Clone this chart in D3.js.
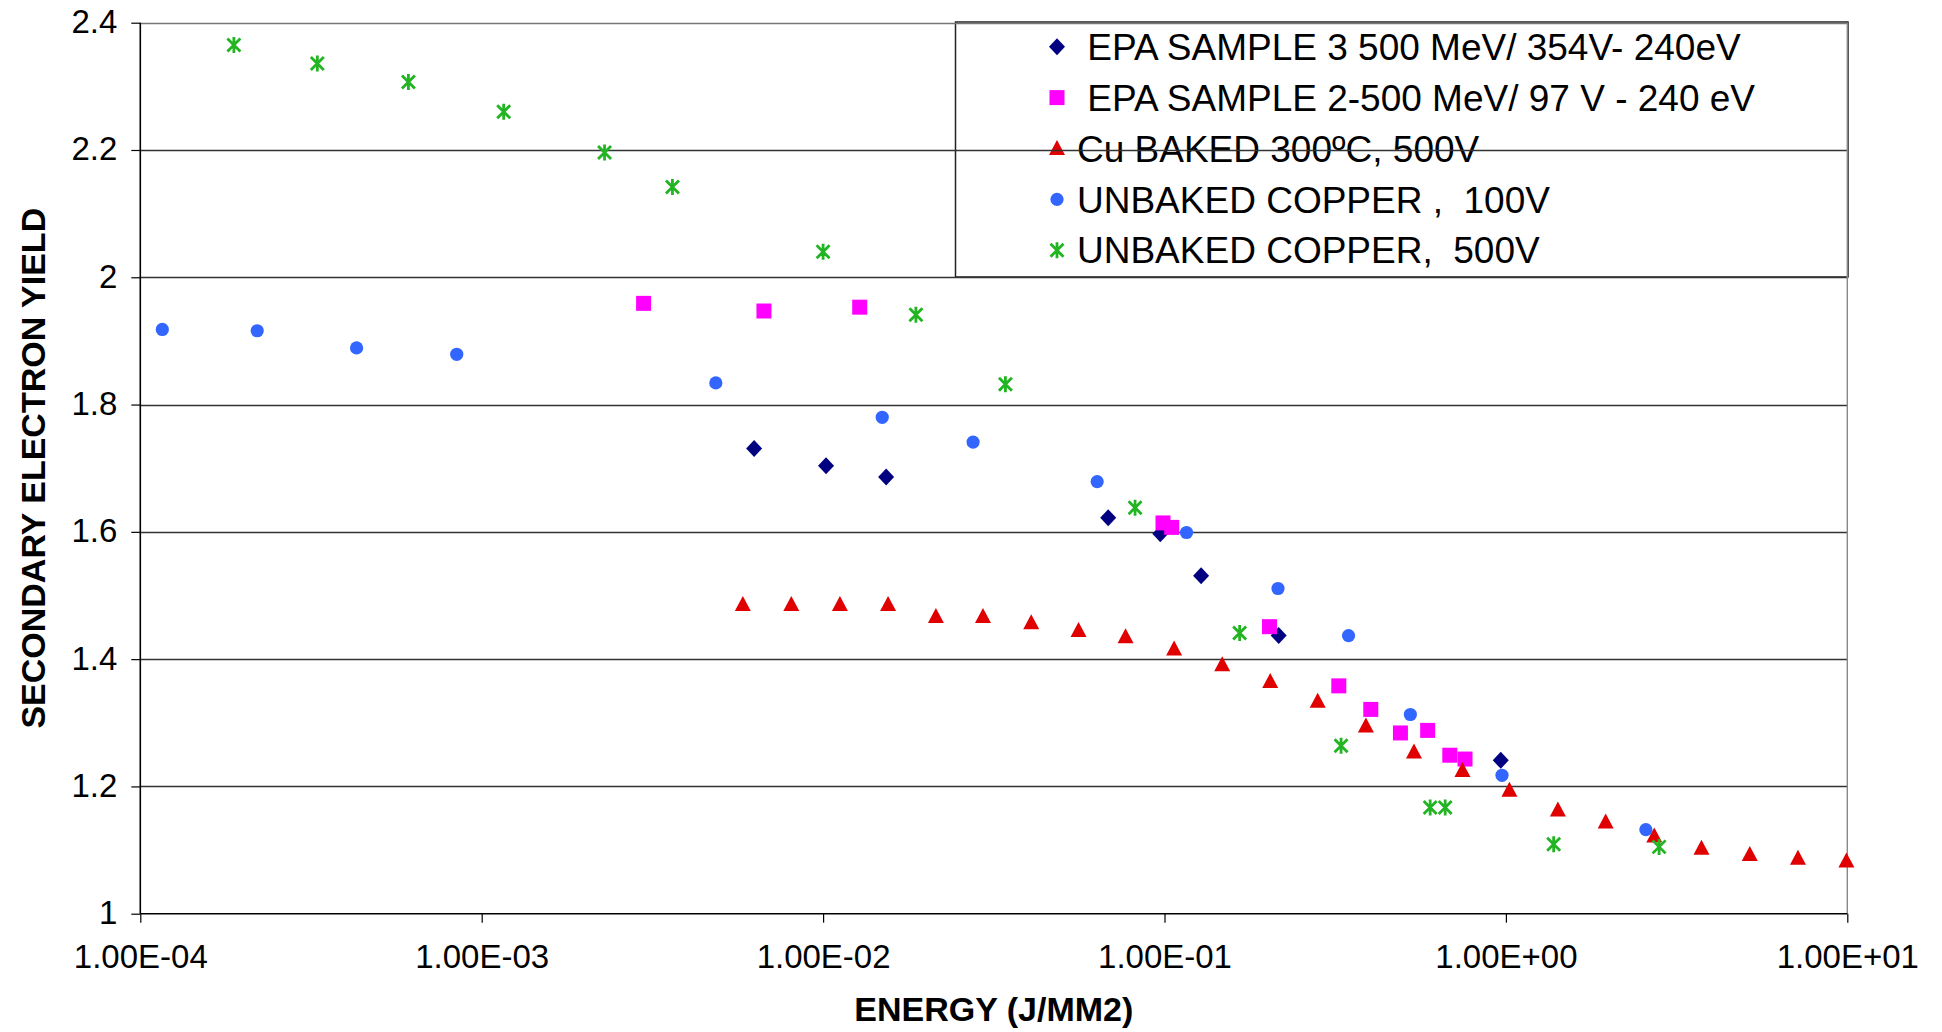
<!DOCTYPE html>
<html>
<head>
<meta charset="utf-8">
<script src="https://cdn.jsdelivr.net/npm/d3@7"></script>
<style>
  html, body { margin: 0; padding: 0; background: #fff; }
  svg { display: block; }
  text { font-family: "Liberation Sans", Arial, sans-serif; white-space: pre; }
</style>
</head>
<body>
<svg id="chart" width="1942" height="1032"></svg>
<script>
// ---- data ----
const seriesNames = [
  " EPA SAMPLE 3 500 MeV/ 354V- 240eV",
  " EPA SAMPLE 2-500 MeV/ 97 V - 240 eV",
  "Cu BAKED 300\u00BAC, 500V",
  "UNBAKED COPPER ,  100V",
  "UNBAKED COPPER,  500V"
];
const seriesShapes = ["diamond", "square", "triangle", "circle", "star"];
const seriesColors = ["#000080", "#FF00FF", "#E00000", "#3366FF", "#22B422"];

const epa3X = [6.28e-3, 1.02e-2, 1.53e-2, 6.84e-2, 9.72e-2, 0.128, 0.216, 0.966];
const epa3Y = [1.731, 1.704, 1.686, 1.622, 1.597, 1.531, 1.437, 1.241];

const epa2X = [2.98e-3, 6.71e-3, 1.28e-2, 0.099, 0.105, 0.203, 0.324, 0.402, 0.491, 0.59, 0.685, 0.759];
const epa2Y = [1.959, 1.947, 1.953, 1.614, 1.607, 1.451, 1.358, 1.321, 1.284, 1.288, 1.249, 1.243];

const cuBakedX = [5.82e-3, 8.07e-3, 1.12e-2, 1.55e-2, 2.14e-2, 2.94e-2, 4.07e-2, 5.6e-2, 7.69e-2, 0.1067, 0.1476, 0.204,
                  0.281, 0.389, 0.538, 0.746, 1.024, 1.42, 1.96, 2.72, 3.74, 5.18, 7.17, 9.94];
const cuBakedY = [1.486, 1.486, 1.486, 1.486, 1.467, 1.467, 1.457, 1.445, 1.435, 1.416, 1.391, 1.365,
                  1.334, 1.295, 1.254, 1.225, 1.194, 1.163, 1.144, 1.122, 1.103, 1.093, 1.087, 1.083];

const unbaked100X = [1.16e-4, 2.2e-4, 4.3e-4, 8.45e-4, 4.85e-3, 1.49e-2, 2.75e-2, 6.35e-2, 0.116, 0.215, 0.346, 0.525, 0.974, 2.57];
const unbaked100Y = [1.918, 1.916, 1.889, 1.879, 1.834, 1.780, 1.741, 1.679, 1.599, 1.511, 1.437, 1.313, 1.2175, 1.132];

const unbaked500X = [1.88e-4, 3.30e-4, 6.1e-4, 1.16e-3, 2.29e-3, 3.62e-3, 1.0e-2, 1.87e-2, 3.42e-2, 8.2e-2, 0.166, 0.329, 0.60, 0.664, 1.38, 2.81];
const unbaked500Y = [2.365, 2.336, 2.307, 2.260, 2.196, 2.142, 2.040, 1.941, 1.832, 1.638, 1.441, 1.264, 1.167, 1.167, 1.109, 1.105];

const xTicks = [1e-4, 1e-3, 1e-2, 1e-1, 1, 10];
const yTicks = [1, 1.2, 1.4, 1.6, 1.8, 2, 2.2, 2.4];
const xTitle = "ENERGY (J/MM2)";
const yTitle = "SECONDARY ELECTRON YIELD";

// ---- build ----
const seriesX = [epa3X, epa2X, cuBakedX, unbaked100X, unbaked500X];
const seriesY = [epa3Y, epa2Y, cuBakedY, unbaked100Y, unbaked500Y];
const series = seriesNames.map((name, i) => ({
  name, shape: seriesShapes[i], color: seriesColors[i],
  points: seriesX[i].map((x, j) => ({ x, y: seriesY[i][j] }))
}));

const M = { left: 140.3, right: 1847.3, top: 22.7, bottom: 913.7 };
const x = d3.scaleLog().domain([1e-4, 10]).range([M.left, M.right]);
const y = d3.scaleLinear().domain([1, 2.4]).range([M.bottom, M.top]);

const svg = d3.select("#chart");

const shapePath = {
  diamond: "M0,-8.5L8,0L0,8.5L-8,0Z",
  square: "M-7.5,-7.5H7.5V7.5H-7.5Z",
  triangle: "M0,-8.5L8,6.5L-8,6.5Z",
  circle: d3.symbol().type(d3.symbolCircle).size(Math.PI * 6.6 * 6.6)(),
  star: "M0,-8V8M-6.5,-6.5L6.5,6.5M-6.5,6.5L6.5,-6.5"
};
function drawMarker(sel, shape, color) {
  if (shape === "star") {
    sel.append("path").attr("d", shapePath.star).attr("fill", "none")
      .attr("stroke", color).attr("stroke-width", 2.8);
  } else {
    sel.append("path").attr("d", shapePath[shape]).attr("fill", color);
  }
}

// legend box (transparent)
const legend = svg.append("g");
legend.append("rect").attr("x", 955.5).attr("y", 22).attr("width", 892.5).attr("height", 255)
  .attr("fill", "none").attr("stroke", "#222").attr("stroke-width", 1.5);
const rowY = d3.scaleLinear().domain([0, 4]).range([46.7, 250.3]);
series.forEach((s, i) => {
  const g = legend.append("g").attr("transform", `translate(1057,${rowY(i)})`);
  drawMarker(g, s.shape, s.color);
  legend.append("text").attr("x", 1077).attr("y", rowY(i)).attr("dy", "0.355em")
    .attr("font-size", 37).attr("fill", "#000").text(s.name);
});

// gridlines
svg.append("g").selectAll("line").data(yTicks.filter(t => t > 1)).join("line")
  .attr("x1", M.left).attr("x2", M.right)
  .attr("y1", d => Math.round(y(d)) + 0.5).attr("y2", d => Math.round(y(d)) + 0.5)
  .attr("stroke", d => d === 2.4 ? "#777" : "#333").attr("stroke-width", 1.4);
// right border
svg.append("line").attr("x1", M.right).attr("x2", M.right).attr("y1", M.top).attr("y2", M.bottom)
  .attr("stroke", "#888").attr("stroke-width", 1.4);

// axes
const fmtX = d => {
  const e = Math.round(Math.log10(d));
  const sign = e < 0 ? "-" : "+";
  return "1.00E" + sign + String(Math.abs(e)).padStart(2, "0");
};
const xAxis = svg.append("g").attr("transform", `translate(0,${M.bottom})`)
  .call(d3.axisBottom(x).tickValues(xTicks).tickFormat(fmtX).tickSize(9).tickPadding(22));
const yAxis = svg.append("g").attr("transform", `translate(${M.left},0)`)
  .call(d3.axisLeft(y).tickValues(yTicks).tickFormat(d3.format("~g")).tickSize(9).tickPadding(14));
[xAxis, yAxis].forEach(a => {
  a.select(".domain").attr("stroke", "#000").attr("stroke-width", 1.6);
  a.selectAll(".tick line").attr("stroke", "#000").attr("stroke-width", 1.2);
  a.selectAll(".tick text").attr("font-size", 33).attr("fill", "#000")
    .attr("font-family", "'Liberation Sans', Arial, sans-serif");
});
yAxis.selectAll(".tick text").attr("dy", "0.3em");
xAxis.select(".domain").attr("d", `M${M.left},0H${M.right}`);
yAxis.select(".domain").attr("d", `M0,${M.top}V${M.bottom}`);

// markers
series.forEach(s => {
  const g = svg.append("g");
  s.points.forEach(p => {
    const mg = g.append("g").attr("transform", `translate(${x(p.x)},${y(p.y)})`);
    drawMarker(mg, s.shape, s.color);
  });
});

// titles
svg.append("text").attr("x", (M.left + M.right) / 2).attr("y", 1020.7)
  .attr("text-anchor", "middle").attr("font-size", 34).attr("font-weight", "bold").text(xTitle);
svg.append("text").attr("transform", `translate(44.6,${(M.top + M.bottom) / 2}) rotate(-90)`)
  .attr("text-anchor", "middle").attr("font-size", 34).attr("font-weight", "bold").text(yTitle);
</script>
</body>
</html>
